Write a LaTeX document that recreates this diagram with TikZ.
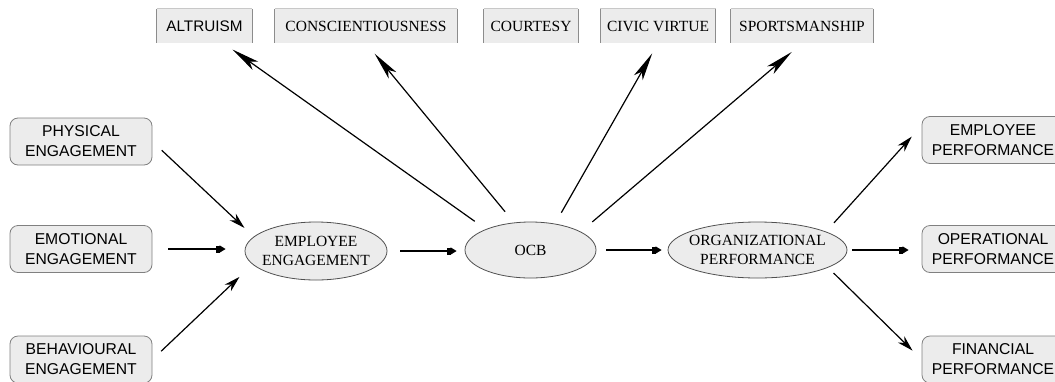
\documentclass[tikz,border=0pt]{standalone}
\usepackage{fontspec}
\setmainfont{Liberation Serif}
\setsansfont{Liberation Sans}
\usetikzlibrary{arrows.meta,shapes.geometric,calc}
\definecolor{boxfill}{HTML}{ECECEC}
\definecolor{boxline}{HTML}{808080}
\definecolor{topline}{HTML}{C8C8C8}
\definecolor{sideline}{HTML}{8C8C8C}
\definecolor{ellline}{HTML}{505050}
\begin{document}
\begin{tikzpicture}[x=1pt,y=-1pt,
  sansbox/.style={draw=boxline, fill=boxfill, rounded corners=8pt, line width=0.8pt,
    minimum width=142pt, minimum height=47pt, align=center, inner sep=0pt,
    font=\sffamily\fontsize{15.7}{20}\selectfont},
  topbox/.style={fill=boxfill, minimum height=34pt, inner sep=0pt,
    font=\fontsize{15.5}{19}\selectfont},
  oval/.style={ellipse, draw=ellline, fill=boxfill, line width=0.8pt, inner sep=0pt},
  ovaltext/.style={align=center, inner sep=0pt, font=\fontsize{15.5}{19}\selectfont},
  conn/.style={line width=1.2pt, black},
  tiph/.style={conn, -{Rectangle[length=4pt,width=7pt,sep=0pt]Triangle[length=6pt,width=7pt]}},
  tips/.style={conn, -{Stealth[length=16pt,width=9pt,inset=5pt]}},
  tipl/.style={conn, -{Stealth[length=28pt,width=10pt,inset=7pt]}},
]
\fill[white] (0,0) rectangle (1055,381);
\useasboundingbox (0,0) rectangle (1055,381);

% top boxes
\node[topbox, minimum width=95pt, font=\sffamily\fontsize{15.3}{20}\selectfont] (altr) at (204.5,26) {ALTRUISM};
\node[topbox, minimum width=182pt] (consc) at (366,26) {CONSCIENTIOUSNESS};
\node[topbox, minimum width=94pt] (court) at (531,26) {COURTESY};
\node[topbox, minimum width=115pt] (civic) at (658,26) {CIVIC VIRTUE};
\node[topbox, minimum width=142pt] (sports) at (802,26) {SPORTSMANSHIP};
\foreach \n in {altr,consc,court,civic,sports}{
  \draw[topline, line width=0.8pt] (\n.north west) -- (\n.north east);
  \draw[sideline, line width=0.8pt] (\n.north west) -- (\n.south west)
                                    (\n.north east) -- (\n.south east);
}

% left boxes
\node[sansbox] (phys) at (81,141.5) {PHYSICAL\\ENGAGEMENT};
\node[sansbox] (emo) at (81,249) {EMOTIONAL\\ENGAGEMENT};
\node[sansbox] (beh) at (81,359.5) {BEHAVIOURAL\\ENGAGEMENT};

% right boxes
\node[sansbox] (emp) at (993,140) {EMPLOYEE\\PERFORMANCE};
\node[sansbox] (ope) at (993,249) {OPERATIONAL\\PERFORMANCE};
\node[sansbox] (fin) at (993,359.5) {FINANCIAL\\PERFORMANCE};

% ellipses
\node[oval, minimum width=142pt, minimum height=58pt,
  label={[ovaltext]center:EMPLOYEE\\ENGAGEMENT}] (ee) at (316,251) {};
\node[oval, minimum width=131pt, minimum height=56pt,
  label={[ovaltext]center:OCB}] (oc) at (530.5,250) {};
\node[oval, minimum width=179pt, minimum height=56pt,
  label={[ovaltext]center:ORGANIZATIONAL\\PERFORMANCE}] (op) at (757.5,250) {};

% connectors
\draw[tips, shorten <=12.8pt, shorten >=12.7pt] (phys.east) -- (ee.167);
\draw[tiph, shorten <=16pt, shorten >=19pt] (emo.east) -- (emo.east -| ee.west);
\draw[tips, shorten <=12pt, shorten >=18pt] (beh.east) -- (ee.192);
\draw[tiph, shorten <=13pt, shorten >=8pt] (ee.east) -- (ee.east -| oc.west);
\draw[tiph, shorten <=10pt, shorten >=6pt] (oc.east) -- (oc.east -| op.west);
\draw[tips, shorten <=11.8pt, shorten >=14.7pt] (op.15) -- ($(emp.west)!0.6!(emp.north west)$);
\draw[tiph, shorten <=5pt, shorten >=13pt] (op.east) -- (op.east -| ope.west);
\draw[tips, shorten <=7.8pt, shorten >=12.7pt] (op.-14) -- (fin.west);

\draw[tipl, shorten <=13.5pt, shorten >=11pt] (oc.155) -- ($(altr.south)!0.4!(altr.south east)$);
\draw[tipl, shorten <=14pt, shorten >=13.6pt] (oc.121) -- (consc.south);
\draw[tipl, shorten <=12.6pt, shorten >=11.7pt] (oc.47) -- (civic.south);
\draw[tipl, shorten <=15pt, shorten >=13.5pt] (oc.20) -- (sports.south);
\end{tikzpicture}
\end{document}
